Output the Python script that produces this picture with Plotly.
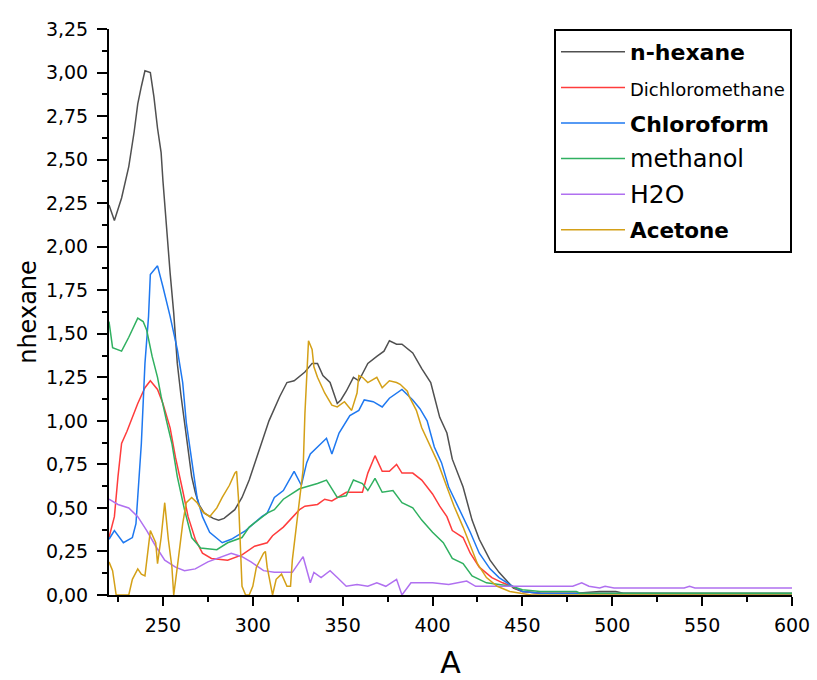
import plotly.graph_objects as go

# ---------------- data ----------------
hexane_x = [220, 223, 227, 231, 234, 236, 238, 240, 243, 245, 247, 249, 250, 252, 254, 256, 258, 260,
            262, 264, 266, 268, 270, 273, 278, 281, 284, 290, 294, 298, 304, 309, 315, 319, 323, 329,
            333, 336, 339, 343, 347, 349, 352, 356, 359, 364, 369, 373, 376, 380, 383, 389, 394, 399,
            401, 404, 408, 411, 417, 422, 426, 432, 437, 442, 445, 450, 460, 480, 493, 502, 506, 600]
hexane_y = [2.24, 2.15, 2.28, 2.46, 2.66, 2.82, 2.92, 3.01, 3.00, 2.86, 2.68, 2.54, 2.38, 2.10, 1.85,
            1.62, 1.33, 1.15, 0.99, 0.83, 0.68, 0.59, 0.52, 0.47, 0.44, 0.43, 0.44, 0.49, 0.56, 0.66,
            0.85, 1.00, 1.14, 1.22, 1.23, 1.28, 1.33, 1.33, 1.26, 1.22, 1.10, 1.12, 1.17, 1.25, 1.23,
            1.33, 1.37, 1.40, 1.46, 1.44, 1.44, 1.39, 1.30, 1.22, 1.14, 1.02, 0.93, 0.78, 0.62, 0.43,
            0.32, 0.20, 0.13, 0.07, 0.04, 0.02, 0.01, 0.01, 0.02, 0.02, 0.01, 0.01]

dcm_x = [220, 223, 225, 227, 230, 233, 236, 240, 243, 247, 250, 254, 257, 261, 264, 268, 272, 277,
         286, 294, 298, 301, 308, 311, 317, 326, 329, 336, 340, 344, 352, 361, 364, 368, 372, 376,
         380, 383, 389, 394, 400, 404, 408, 411, 417, 421, 426, 433, 439, 444, 450, 460, 600]
dcm_y = [0.33, 0.45, 0.68, 0.87, 0.94, 1.02, 1.10, 1.19, 1.23, 1.18, 1.10, 0.96, 0.79, 0.60, 0.45,
         0.32, 0.24, 0.21, 0.20, 0.23, 0.26, 0.28, 0.30, 0.34, 0.39, 0.49, 0.51, 0.52, 0.55, 0.54,
         0.59, 0.59, 0.70, 0.80, 0.71, 0.71, 0.75, 0.70, 0.70, 0.66, 0.58, 0.51, 0.45, 0.37, 0.33,
         0.24, 0.16, 0.10, 0.07, 0.05, 0.02, 0.01, 0.005]

chl_x = [220, 223, 228, 233, 235, 236, 238, 240, 242, 243, 247, 250, 254, 258, 261, 263, 266, 269,
         272, 276, 283, 288, 296, 305, 308, 312, 317, 323, 327, 330, 332, 336, 341, 344, 348, 354,
         359, 362, 367, 372, 376, 383, 389, 393, 397, 401, 405, 409, 415, 421, 426, 432, 437, 443,
         450, 460, 600]
chl_y = [0.32, 0.37, 0.30, 0.33, 0.41, 0.55, 0.87, 1.33, 1.60, 1.84, 1.89, 1.77, 1.60, 1.41, 1.22,
         0.99, 0.76, 0.56, 0.45, 0.36, 0.30, 0.32, 0.37, 0.45, 0.47, 0.56, 0.60, 0.71, 0.63, 0.76,
         0.81, 0.85, 0.90, 0.81, 0.93, 1.03, 1.06, 1.12, 1.11, 1.08, 1.13, 1.18, 1.12, 1.07, 1.00,
         0.85, 0.76, 0.62, 0.49, 0.36, 0.24, 0.15, 0.10, 0.06, 0.02, 0.01, 0.005]

meoh_x = [220, 222, 227, 231, 236, 239, 241, 244, 247, 249, 252, 255, 258, 262, 266, 271, 280, 286,
          294, 298, 308, 312, 317, 326, 336, 341, 347, 352, 356, 361, 364, 368, 372, 378, 383, 389,
          394, 400, 406, 411, 417, 422, 430, 437, 444, 450, 460, 480, 482, 600]
meoh_y = [1.57, 1.42, 1.40, 1.48, 1.59, 1.57, 1.52, 1.37, 1.25, 1.14, 1.00, 0.87, 0.68, 0.49, 0.33,
          0.27, 0.26, 0.30, 0.33, 0.39, 0.47, 0.49, 0.55, 0.61, 0.64, 0.66, 0.56, 0.57, 0.66, 0.64,
          0.60, 0.67, 0.59, 0.60, 0.53, 0.50, 0.43, 0.36, 0.30, 0.21, 0.18, 0.11, 0.07, 0.06, 0.05,
          0.03, 0.02, 0.02, 0.01, 0.01]

h2o_x = [220, 225, 231, 236, 241, 246, 251, 257, 262, 268, 275, 283, 288, 294, 299, 306, 312, 322,
         328, 332, 334, 338, 343, 347, 352, 358, 364, 369, 374, 380, 383, 388, 400, 409, 419, 424,
         441, 478, 483, 487, 493, 496, 501, 540, 543, 546, 600]
h2o_y = [0.55, 0.52, 0.50, 0.45, 0.37, 0.28, 0.20, 0.16, 0.14, 0.15, 0.19, 0.22, 0.24, 0.22, 0.19,
         0.14, 0.13, 0.13, 0.22, 0.07, 0.13, 0.10, 0.14, 0.10, 0.05, 0.06, 0.05, 0.07, 0.05, 0.09,
         0.00, 0.07, 0.07, 0.06, 0.08, 0.05, 0.05, 0.05, 0.07, 0.05, 0.04, 0.05, 0.04, 0.04, 0.05,
         0.04, 0.04]

ace_x = [220, 222, 224, 231, 233, 236, 238, 240, 243, 246, 247, 249, 251, 253, 255, 256, 258, 261,
         263, 266, 269, 272, 276, 280, 283, 287, 290, 291, 292, 293, 294, 296, 298, 300, 302, 306,
         307, 308, 311, 313, 316, 319, 321, 322, 325, 327, 328, 329, 330, 331, 333, 334, 336, 340,
         344, 347, 351, 355, 358, 359, 361, 364, 369, 372, 376, 380, 382, 386, 387, 391, 394, 398,
         403, 408, 412, 417, 421, 425, 430, 436, 443, 450, 455, 600]
ace_y = [0.19, 0.14, 0.00, 0.00, 0.09, 0.15, 0.12, 0.11, 0.37, 0.30, 0.18, 0.33, 0.53, 0.32, 0.16,
         0.00, 0.16, 0.41, 0.53, 0.56, 0.53, 0.48, 0.45, 0.50, 0.56, 0.63, 0.70, 0.71, 0.56, 0.32,
         0.05, 0.00, 0.00, 0.05, 0.16, 0.24, 0.25, 0.16, 0.00, 0.09, 0.12, 0.05, 0.05, 0.20, 0.45,
         0.62, 0.72, 1.04, 1.29, 1.46, 1.41, 1.31, 1.25, 1.16, 1.09, 1.08, 1.11, 1.06, 1.16, 1.26,
         1.25, 1.22, 1.25, 1.19, 1.23, 1.22, 1.21, 1.17, 1.14, 1.06, 0.96, 0.87, 0.76, 0.62, 0.51,
         0.39, 0.28, 0.18, 0.10, 0.05, 0.02, 0.01, 0.00, 0.00]

series_names = ["<b>n-hexane</b>",
                "<span style='font-size:18px'>Dichloromethane</span>",
                "<b>Chloroform</b>",
                "<span style='font-size:24px'>methanol</span>",
                "<span style='font-size:25px'>H2O</span>",
                "<span style='font-size:21.5px'><b>Acetone</b></span>"]
series_colors = ["#505050", "#ff3c3c", "#1e78f0", "#30b060", "#b070f0", "#d4a017"]

x_ticks = [250, 300, 350, 400, 450, 500, 550, 600]
y_ticks = [0, 0.25, 0.5, 0.75, 1.0, 1.25, 1.5, 1.75, 2.0, 2.25, 2.5, 2.75, 3.0, 3.25]

xs = [hexane_x, dcm_x, chl_x, meoh_x, h2o_x, ace_x]
ys = [hexane_y, dcm_y, chl_y, meoh_y, h2o_y, ace_y]

FONT = "DejaVu Sans"

fig = go.Figure()
for i, (x, y) in enumerate(zip(xs, ys)):
    fig.add_trace(go.Scatter(x=x, y=y, mode="lines", name=series_names[i],
                             legendgroup=f"g{i}",
                             line=dict(color=series_colors[i], width=1.5)))

fig.update_layout(
    width=817, height=680,
    margin=dict(l=109, r=25, t=29, b=85, autoexpand=False),
    paper_bgcolor="white", plot_bgcolor="white",
    separators=", ",
    font=dict(family=FONT, color="black", size=19),
    showlegend=True,
    legend=dict(x=1, y=1, xanchor="right", yanchor="top",
                bgcolor="white", bordercolor="black", borderwidth=2,
                font=dict(family=FONT, size=22, color="black"),
                traceorder="grouped", tracegroupgap=4,
                itemwidth=64),
)

fig.update_xaxes(range=[220, 600], tickvals=x_ticks, ticks="outside", ticklen=9, tickwidth=2,
                 tickcolor="black", showline=True, linecolor="black", linewidth=2,
                 showgrid=False, zeroline=False, mirror=False, ticklabelstandoff=3,
                 automargin=False,
                 tickfont=dict(family=FONT, size=19, color="black"),
                 minor=dict(dtick=25, tick0=225, ticks="outside", ticklen=5, tickwidth=2,
                            tickcolor="black", showgrid=False),
                 title=dict(text="A", font=dict(family=FONT, size=30, color="black"), standoff=18))
fig.update_yaxes(range=[0, 3.25], tickvals=y_ticks, tickformat=".2f", ticks="outside", ticklen=10,
                 tickwidth=2, tickcolor="black", showline=True, linecolor="black", linewidth=2,
                 showgrid=False, zeroline=False, mirror=False, ticklabelstandoff=5,
                 automargin=False,
                 tickfont=dict(family=FONT, size=19, color="black"),
                 minor=dict(dtick=0.125, tick0=0.125, ticks="outside", ticklen=5, tickwidth=2,
                            tickcolor="black", showgrid=False),
                 title=dict(text="nhexane", font=dict(family=FONT, size=24, color="black"), standoff=2))

fig.write_html("out.html", config={"displayModeBar": False, "staticPlot": True},
               post_script="document.body.style.margin='0';document.body.style.overflow='hidden';")
